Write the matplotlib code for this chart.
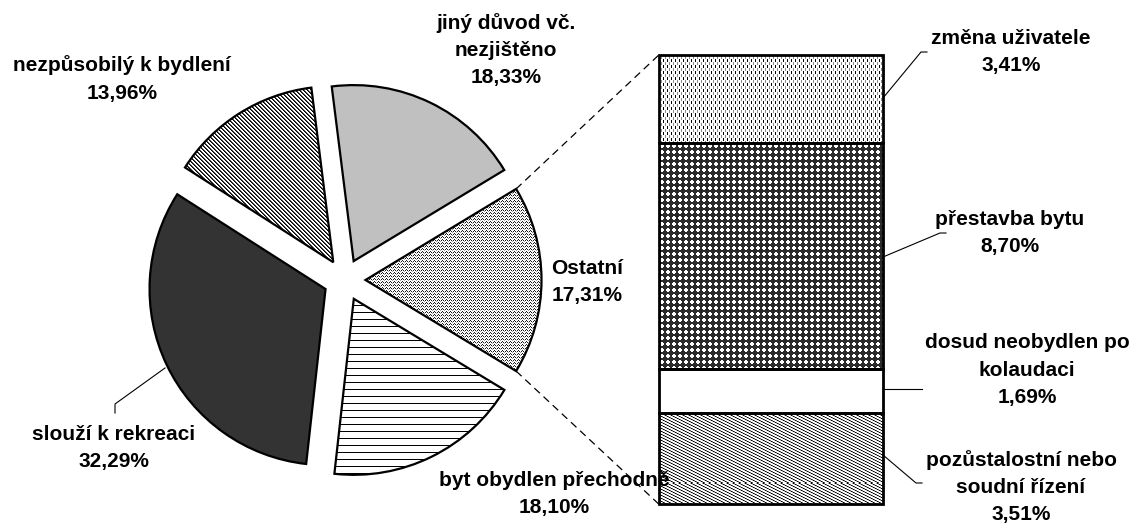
import numpy as np
import matplotlib.pyplot as plt

plt.rcParams["font.family"] = ["Liberation Sans", "DejaVu Sans"]

# data
pie_labels = ["Ostatní", "jiný důvod vč.\nnezjištěno", "nezpůsobilý k bydlení",
              "slouží k rekreaci", "byt obydlen přechodně"]
pie_values = [17.31, 18.33, 13.96, 32.29, 18.10]
bar_labels = ["pozůstalostní nebo\nsoudní řízení", "dosud neobydlen po\nkolaudaci",
              "přestavba bytu", "změna uživatele"]
bar_values = [3.51, 1.69, 8.70, 3.41]

W, H = 1134, 523


def pct(v):
    return f"{v:.2f}".replace(".", ",") + "%"


# small pixel tiles that imitate the Excel fill patterns (1 = white)
def tile_zigzag():
    return np.array([[1, 0.1, 1, 1],
                     [0.1, 1, 0.1, 1],
                     [1, 1, 1, 0.6]])


def tile_diag():
    t = np.ones((4, 4))
    for r in range(4):
        t[r, r % 4] = 0
        t[r, (r + 1) % 4] = 0.3
    return t


def tile_hlines():
    t = np.ones((7, 1))
    t[0, 0] = 0
    return t


def tile_vdash():
    t = np.ones((6, 4))
    t[0:3, 0] = 0
    t[3:6, 2] = 0.55
    return t


def tile_cross():
    t = np.full((6, 6), 0.17)
    t[1:5, 1:5] = 1
    for r, c in [(1, 1), (1, 4), (4, 1), (4, 4)]:
        t[r, c] = 0.17
    return t


def tile_dash():
    base = np.array([0, 0.4, 1, 1, 1, 0.7])
    return np.array([np.roll(base, 2 * k) for k in range(3)])


def texture(ax, patch, tile):
    bb = patch.get_path().get_extents(patch.get_patch_transform())
    x0, y0 = int(np.floor(bb.x0)), int(np.floor(bb.y0))
    x1, y1 = int(np.ceil(bb.x1)), int(np.ceil(bb.y1))
    th, tw = tile.shape
    img = np.tile(tile, ((y1 - y0) // th + 1, (x1 - x0) // tw + 1))
    img = img[: y1 - y0, : x1 - x0]
    im = ax.imshow(img, cmap="gray", vmin=0, vmax=1, interpolation="nearest",
                   extent=(x0, x1, y0, y1), zorder=2)
    im.set_clip_path(patch)


fig = plt.figure(figsize=(W / 100, H / 100), dpi=100)
ax = fig.add_axes([0, 0, 1, 1])

# pie
pie_fill = [tile_zigzag(), "#c0c0c0", tile_diag(), "#333333", tile_hlines()]
start = -pie_values[0] / sum(pie_values) * 180
wedges, _ = ax.pie(pie_values, radius=176, center=(344.5, H - 280), startangle=start,
                   explode=[21] * len(pie_values),
                   wedgeprops=dict(linewidth=1.6, edgecolor="black"))
for w, fill in zip(wedges, pie_fill):
    w.set_zorder(3)
    if isinstance(fill, str):
        w.set_facecolor(fill)
    else:
        w.set_facecolor("none")
        texture(ax, w, fill)

# bar of "Ostatní"
bar_left, bar_right = 659, 882.7
bar_bottom, bar_total = H - 504.3, 449.5
scale = bar_total / pie_values[0]
heights = np.array(bar_values) * scale
bottoms = bar_bottom + np.concatenate([[0], np.cumsum(heights)[:-1]])
bars = ax.bar((bar_left + bar_right) / 2, heights, width=bar_right - bar_left,
              bottom=bottoms, facecolor="none", edgecolor="black", linewidth=2, zorder=3)
bar_fill = [tile_dash(), None, tile_cross(), tile_vdash()]
for b, fill in zip(bars, bar_fill):
    if fill is not None:
        texture(ax, b, fill)

# dashed connectors
ow = wedges[0]
cx, cy = ow.center
for ang, by in [(ow.theta2, bottoms[-1] + heights[-1]), (ow.theta1, bar_bottom)]:
    a = np.deg2rad(ang)
    ax.plot([cx + ow.r * np.cos(a), bar_left], [cy + ow.r * np.sin(a), by],
            color="black", lw=0.9, dashes=(6, 4), zorder=1)

# labels
txt = dict(ha="center", va="center", fontsize=15, fontweight="bold", linespacing=1.55)
pie_pos = [(587, 282), (506, 50), (122, 79), (114, 448), (554, 494)]
for lab, v, (x, y) in zip(pie_labels, pie_values, pie_pos):
    ax.text(x, H - y, f"{lab}\n{pct(v)}", **txt)

bar_pos = [(1021, 487), (1027, 370), (1010, 233), (1011, 52)]
for lab, v, (x, y) in zip(bar_labels, bar_values, bar_pos):
    ax.text(x, H - y, f"{lab}\n{pct(v)}", **txt)

# leader lines
leaders = [
    [(115, 413), (115, 404), (165, 368)],
    [(883, 98), (921, 52), (927, 52)],
    [(883, 257), (940, 233), (946, 233)],
    [(883, 389), (922, 389)],
    [(883, 455), (916, 483), (922, 483)],
]
for pts in leaders:
    xs, ys = zip(*pts)
    ax.plot(xs, [H - y for y in ys], color="black", lw=0.8, zorder=4)

ax.set_xlim(0, W)
ax.set_ylim(0, H)
ax.axis("off")
fig.savefig("out.png", dpi=100, facecolor="white")
